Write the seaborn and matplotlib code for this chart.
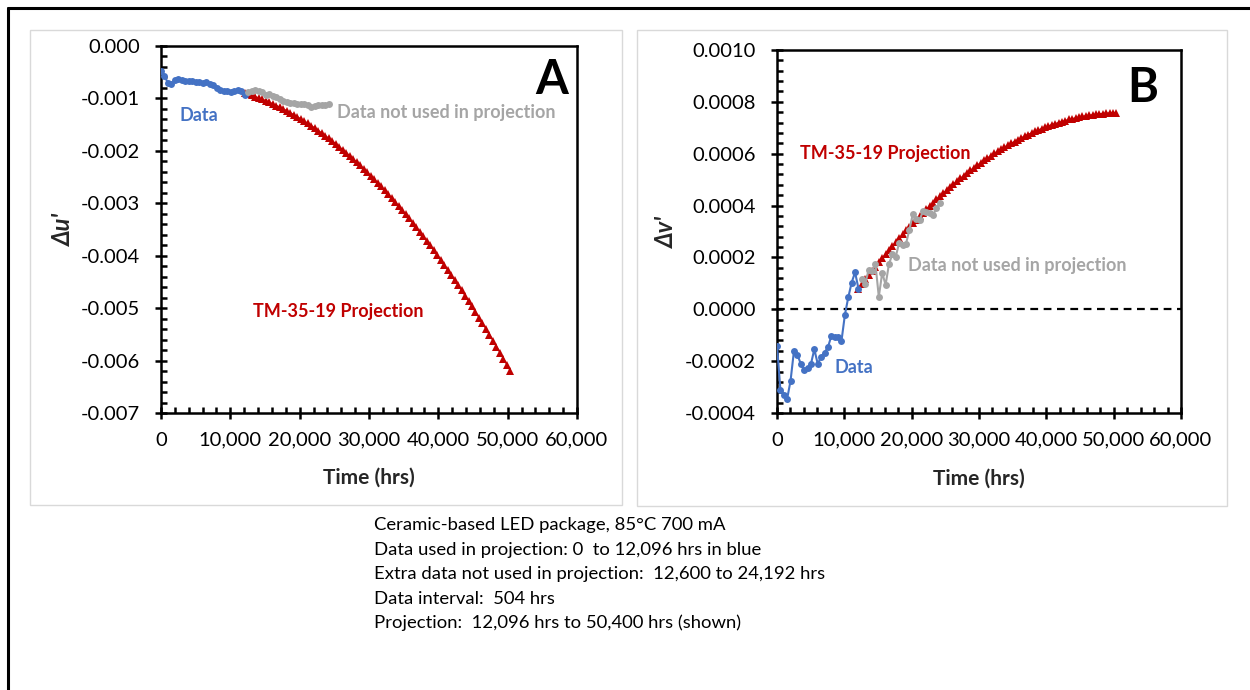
import numpy as np
import pandas as pd
import matplotlib
matplotlib.use("Agg")
import matplotlib.pyplot as plt
import matplotlib.ticker as mticker
from matplotlib.lines import Line2D
from matplotlib.patches import Rectangle
import seaborn as sns

# ---------------------------------------------------------------- data
INTERVAL = 504                      # hrs between readings
USED_START, USED_END = 0, 12096     # data used in projection
EXTRA_START, EXTRA_END = 12600, 24192
PROJ_START, PROJ_END = 12096, 50400

used_hours = np.arange(USED_START, USED_END + 1, INTERVAL)
extra_hours = np.arange(EXTRA_START, EXTRA_END + 1, INTERVAL)
proj_hours = np.arange(PROJ_START, PROJ_END + 1, INTERVAL)

# Δu' measurements
du_used = [-0.48e-3, -0.58e-3, -0.70e-3, -0.72e-3, -0.65e-3, -0.63e-3, -0.64e-3,
           -0.66e-3, -0.67e-3, -0.67e-3, -0.68e-3, -0.69e-3, -0.70e-3, -0.69e-3,
           -0.72e-3, -0.74e-3, -0.80e-3, -0.83e-3, -0.85e-3, -0.86e-3, -0.88e-3,
           -0.85e-3, -0.84e-3, -0.86e-3, -0.94e-3]
du_extra = [-0.88e-3, -0.86e-3, -0.84e-3, -0.85e-3, -0.88e-3, -0.93e-3, -0.91e-3,
            -0.95e-3, -0.98e-3, -1.02e-3, -1.04e-3, -1.06e-3, -1.08e-3, -1.09e-3,
            -1.10e-3, -1.10e-3, -1.11e-3, -1.13e-3, -1.16e-3, -1.14e-3, -1.13e-3,
            -1.12e-3, -1.12e-3, -1.11e-3]
du_proj = [-0.900e-3, -0.921e-3, -0.943e-3, -0.966e-3, -0.991e-3, -1.017e-3, -1.045e-3,
           -1.073e-3, -1.103e-3, -1.135e-3, -1.167e-3, -1.201e-3, -1.236e-3, -1.273e-3,
           -1.311e-3, -1.350e-3, -1.390e-3, -1.432e-3, -1.475e-3, -1.519e-3, -1.565e-3,
           -1.612e-3, -1.660e-3, -1.710e-3, -1.760e-3, -1.813e-3, -1.866e-3, -1.921e-3,
           -1.977e-3, -2.034e-3, -2.093e-3, -2.153e-3, -2.214e-3, -2.277e-3, -2.340e-3,
           -2.406e-3, -2.472e-3, -2.540e-3, -2.609e-3, -2.679e-3, -2.751e-3, -2.824e-3,
           -2.898e-3, -2.974e-3, -3.051e-3, -3.129e-3, -3.208e-3, -3.289e-3, -3.371e-3,
           -3.455e-3, -3.539e-3, -3.625e-3, -3.713e-3, -3.801e-3, -3.891e-3, -3.982e-3,
           -4.075e-3, -4.169e-3, -4.264e-3, -4.360e-3, -4.458e-3, -4.557e-3, -4.657e-3,
           -4.759e-3, -4.862e-3, -4.966e-3, -5.072e-3, -5.179e-3, -5.287e-3, -5.396e-3,
           -5.507e-3, -5.619e-3, -5.732e-3, -5.847e-3, -5.963e-3, -6.080e-3, -6.199e-3]

# Δv' measurements
dv_used = [-0.140e-3, -0.310e-3, -0.330e-3, -0.345e-3, -0.275e-3, -0.160e-3, -0.175e-3,
           -0.210e-3, -0.235e-3, -0.228e-3, -0.211e-3, -0.154e-3, -0.211e-3, -0.183e-3,
           -0.167e-3, -0.147e-3, -0.103e-3, -0.106e-3, -0.106e-3, -0.122e-3, -0.022e-3,
           0.046e-3, 0.103e-3, 0.143e-3, 0.080e-3]
dv_extra = [0.116e-3, 0.098e-3, 0.152e-3, 0.149e-3, 0.176e-3, 0.048e-3, 0.141e-3,
            0.094e-3, 0.175e-3, 0.212e-3, 0.203e-3, 0.257e-3, 0.248e-3, 0.252e-3,
            0.306e-3, 0.366e-3, 0.350e-3, 0.344e-3, 0.378e-3, 0.376e-3, 0.370e-3,
            0.364e-3, 0.390e-3, 0.411e-3]
dv_proj = [0.080e-3, 0.097e-3, 0.115e-3, 0.132e-3, 0.148e-3, 0.165e-3, 0.181e-3,
           0.197e-3, 0.213e-3, 0.229e-3, 0.244e-3, 0.259e-3, 0.274e-3, 0.289e-3,
           0.304e-3, 0.318e-3, 0.332e-3, 0.346e-3, 0.359e-3, 0.373e-3, 0.386e-3,
           0.399e-3, 0.411e-3, 0.424e-3, 0.436e-3, 0.448e-3, 0.460e-3, 0.471e-3,
           0.483e-3, 0.494e-3, 0.505e-3, 0.515e-3, 0.526e-3, 0.536e-3, 0.546e-3,
           0.555e-3, 0.565e-3, 0.574e-3, 0.583e-3, 0.592e-3, 0.601e-3, 0.609e-3,
           0.617e-3, 0.625e-3, 0.633e-3, 0.640e-3, 0.647e-3, 0.654e-3, 0.661e-3,
           0.668e-3, 0.674e-3, 0.680e-3, 0.686e-3, 0.691e-3, 0.697e-3, 0.702e-3,
           0.707e-3, 0.712e-3, 0.716e-3, 0.720e-3, 0.724e-3, 0.728e-3, 0.732e-3,
           0.735e-3, 0.738e-3, 0.741e-3, 0.744e-3, 0.746e-3, 0.748e-3, 0.750e-3,
           0.752e-3, 0.754e-3, 0.755e-3, 0.756e-3, 0.757e-3, 0.758e-3, 0.758e-3]

caption_lines = [
    "Ceramic-based LED package, 85°C 700 mA",
    "Data used in projection: 0  to 12,096 hrs in blue",
    "Extra data not used in projection:  12,600 to 24,192 hrs",
    "Data interval:  504 hrs",
    "Projection:  12,096 hrs to 50,400 hrs (shown)",
]

BLUE = "#4472C4"
GRAY = "#A5A5A5"
RED = "#C00000"

# ---------------------------------------------------------------- style
sns.set_theme(style="white")
plt.rcParams["font.family"] = ["Lato", "DejaVu Sans"]
plt.rcParams["axes.unicode_minus"] = False

W, H = 1250, 690
fig = plt.figure(figsize=(W / 100, H / 100), dpi=100)
fig.patch.set_facecolor("white")


def px_box(left, top, right, bottom):
    return [left / W, 1 - bottom / H, (right - left) / W, (bottom - top) / H]


# outer frame (left and top edges) and the two light panel borders
fig.add_artist(Line2D([8 / W, 8 / W], [0, 1 - 8 / H], transform=fig.transFigure,
                      color="black", lw=2.2))
fig.add_artist(Line2D([8 / W, 1], [1 - 8 / H, 1 - 8 / H], transform=fig.transFigure,
                      color="black", lw=2.2))
for l, t, r, b in [(30, 30, 622, 505), (637, 30, 1227, 506)]:
    fig.add_artist(Rectangle((l / W, 1 - b / H), (r - l) / W, (b - t) / H,
                             transform=fig.transFigure, fill=False,
                             edgecolor="#D9D9D9", lw=1.0))

axA = fig.add_axes(px_box(161, 46, 577, 413))
axB = fig.add_axes(px_box(777, 50, 1181, 413))


def draw_series(ax, used, extra, proj):
    d_proj = pd.DataFrame({"hours": proj_hours, "value": proj})
    d_used = pd.DataFrame({"hours": used_hours, "value": used})
    d_extra = pd.DataFrame({"hours": extra_hours, "value": extra})
    sns.lineplot(data=d_proj, x="hours", y="value", ax=ax, color=RED, lw=1.0,
                 marker="^", markersize=5.5, markeredgewidth=0, estimator=None,
                 zorder=3)
    sns.lineplot(data=d_used, x="hours", y="value", ax=ax, color=BLUE, lw=1.5,
                 marker="o", markersize=5, markeredgewidth=0, estimator=None,
                 zorder=4)
    sns.lineplot(data=d_extra, x="hours", y="value", ax=ax, color=GRAY, lw=1.5,
                 marker="o", markersize=5, markeredgewidth=0, estimator=None,
                 zorder=5)


def style_axes(ax, ymin, ymax, ymajor, yminor, yfmt):
    ax.set_xlim(0, 60000)
    ax.set_ylim(ymin, ymax)
    ax.xaxis.set_major_locator(mticker.MultipleLocator(10000))
    ax.xaxis.set_minor_locator(mticker.MultipleLocator(2000))
    ax.yaxis.set_major_locator(mticker.MultipleLocator(ymajor))
    ax.yaxis.set_minor_locator(mticker.MultipleLocator(yminor))
    ax.xaxis.set_major_formatter(mticker.FuncFormatter(lambda v, p: f"{v:,.0f}"))
    ax.yaxis.set_major_formatter(mticker.FormatStrFormatter(yfmt))
    for s in ax.spines.values():
        s.set_color("black")
        s.set_linewidth(1.8)
        s.set_visible(True)
    ax.tick_params(which="major", direction="inout", length=9, width=1.8,
                   color="black", labelsize=14.5, labelcolor="black",
                   bottom=True, left=True, top=False, right=False)
    ax.tick_params(axis="x", which="major", pad=9)
    ax.tick_params(axis="y", which="major", pad=10.5)
    ax.tick_params(which="minor", direction="in", length=4.5, width=1.8,
                   color="black", bottom=True, left=True, top=False, right=False)
    ax.set_facecolor("white")
    ax.grid(False)
    ax.set_xlabel("Time (hrs)", fontsize=15, fontweight="bold")


draw_series(axA, du_used, du_extra, du_proj)
style_axes(axA, -0.007, 0.0, 0.001, 0.0002, "%.3f")
axA.set_ylabel("Δu'", fontsize=17, fontweight="bold", fontstyle="italic")
axA.xaxis.set_label_coords(0.5, -0.150)
axA.yaxis.set_label_coords(-0.207, 0.5)

draw_series(axB, dv_used, dv_extra, dv_proj)
axB.axhline(0, color="black", lw=1.6, ls=(0, (3.5, 2.5)), zorder=2)
style_axes(axB, -0.0004, 0.0010, 0.0002, 0.00004, "%.4f")
axB.set_ylabel("Δv'", fontsize=17, fontweight="bold", fontstyle="italic")
axB.xaxis.set_label_coords(0.5, -0.152)
axB.yaxis.set_label_coords(-0.245, 0.5)

# in-plot labels
lab = dict(fontsize=13, fontweight="bold", va="center", ha="left")
axA.text(2600, -0.00133, "Data", color=BLUE, **lab)
axA.text(25400, -0.00127, "Data not used in projection", color=GRAY, **lab)
axA.text(13270, -0.00507, "TM-35-19 Projection", color=RED, **lab)
axA.text(56400, -0.00064, "A", fontsize=34, fontweight="bold", ha="center",
         va="center", color="black")

axB.text(3420, 0.000599, "TM-35-19 Projection", color=RED, **lab)
axB.text(19450, 0.000167, "Data not used in projection", color=GRAY, **lab)
axB.text(8610, -0.000223, "Data", color=BLUE, **lab)
axB.text(54360, 0.000853, "B", fontsize=34, fontweight="bold", ha="center",
         va="center", color="black")

# caption block
for i, line in enumerate(caption_lines):
    fig.text(374 / W, 1 - (525 + 24.5 * i) / H, line, fontsize=13.3,
             ha="left", va="center", color="black")

fig.savefig("out.png", dpi=100, facecolor="white")
